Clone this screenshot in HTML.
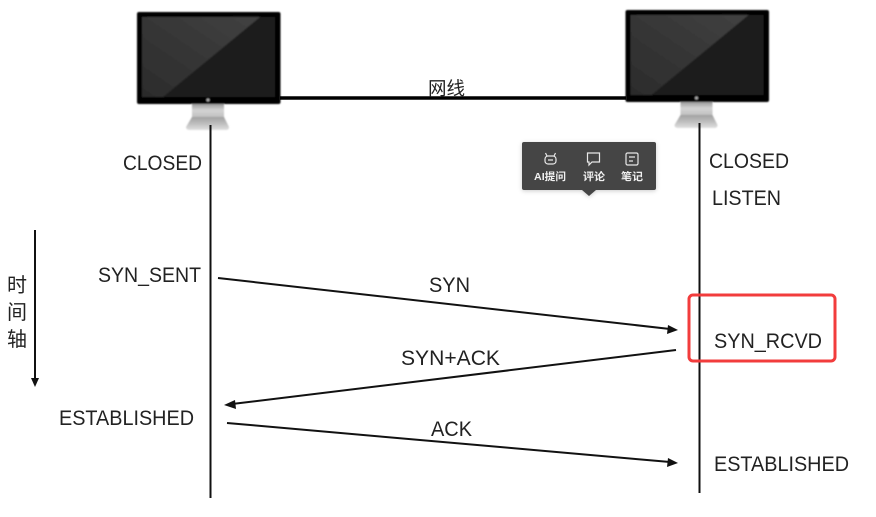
<!DOCTYPE html>
<html><head><meta charset="utf-8"><style>
html,body{margin:0;padding:0;background:#fff;width:876px;height:517px;overflow:hidden}
svg{display:block;filter:blur(.3px)}
text{font-family:"Liberation Sans","Noto Sans CJK SC",sans-serif;fill:#222;font-size:21px}
</style></head><body>
<svg width="876" height="517" viewBox="0 0 876 517" xmlns="http://www.w3.org/2000/svg">
<defs>
<linearGradient id="st" x1="0" y1="0" x2="0" y2="1"><stop offset="0" stop-color="#9a9a9a"/><stop offset=".45" stop-color="#d4d4d4"/><stop offset="1" stop-color="#bdbdbd"/></linearGradient>
<linearGradient id="ft" x1="0" y1="0" x2="0" y2="1"><stop offset="0" stop-color="#a0a0a0"/><stop offset=".5" stop-color="#bdbdbd"/><stop offset="1" stop-color="#e0e0e0"/></linearGradient>
<linearGradient id="gl" x1="0" y1="1" x2="1" y2="0"><stop offset="0" stop-color="#2b2b2b"/><stop offset="1" stop-color="#414141"/></linearGradient>
<filter id="b"><feGaussianBlur stdDeviation=".8"/></filter>
<filter id="sh" x="-10%" y="-10%" width="120%" height="125%"><feDropShadow dx="0" dy="1" stdDeviation="2" flood-color="#000" flood-opacity=".2"/></filter>
<g id="mon" filter="url(#b)">
<rect x="55" y="92" width="32" height="14" fill="url(#st)"/>
<path d="M55 105H87L92 115Q92 118 89 118H53Q49 118 49 115Z" fill="url(#ft)"/>
<rect x="0" y="0" width="143.500" height="92" rx="2" fill="#040404"/>
<rect x="5" y="5" width="133" height="80" fill="#1b1b1b"/>
<path d="M5 5H123L26 85H5Z" fill="url(#gl)"/>
<circle cx="71" cy="88" r="1.500" fill="#aaa"/>
</g>
</defs>
<rect width="876" height="517" fill="#fff"/>

<use href="#mon" x="137" y="12"/>
<use href="#mon" x="625.500" y="10"/>

<line x1="280" y1="98" x2="626" y2="98" stroke="#000" stroke-width="3.600"/>
<text x="428" y="95" style="font-size:18.500px">网线</text>

<line x1="210.500" y1="125" x2="210.500" y2="498" stroke="#111" stroke-width="2"/>
<line x1="699.500" y1="123" x2="699.500" y2="493" stroke="#111" stroke-width="2"/>

<text x="123" y="170" textLength="79" lengthAdjust="spacingAndGlyphs">CLOSED</text>
<text x="709" y="168" textLength="80" lengthAdjust="spacingAndGlyphs">CLOSED</text>
<text x="712" y="205" textLength="69" lengthAdjust="spacingAndGlyphs">LISTEN</text>
<text x="98" y="282" textLength="103" lengthAdjust="spacingAndGlyphs">SYN_SENT</text>
<text x="59" y="425" textLength="135" lengthAdjust="spacingAndGlyphs">ESTABLISHED</text>
<text x="714" y="471" textLength="135" lengthAdjust="spacingAndGlyphs">ESTABLISHED</text>
<text x="714" y="348" textLength="108" lengthAdjust="spacingAndGlyphs">SYN_RCVD</text>
<text x="429" y="292" textLength="41" lengthAdjust="spacingAndGlyphs">SYN</text>
<text x="401" y="365" textLength="99" lengthAdjust="spacingAndGlyphs">SYN+ACK</text>
<text x="431" y="436" textLength="41" lengthAdjust="spacingAndGlyphs">ACK</text>

<text x="7" y="292" style="font-size:20px">时</text>
<text x="7" y="319" style="font-size:20px">间</text>
<text x="7" y="346" style="font-size:20px">轴</text>

<line x1="35" y1="230" x2="35" y2="380" stroke="#111" stroke-width="2"/>
<path d="M31 378H39L35 387Z" fill="#111"/>

<line x1="218" y1="278" x2="670" y2="329" stroke="#111" stroke-width="2"/>
<path d="M678 330L667 334L668 325Z" fill="#111"/>
<line x1="676" y1="350" x2="232" y2="404" stroke="#111" stroke-width="2"/>
<path d="M224 405L235 400L236 409Z" fill="#111"/>
<line x1="227" y1="423" x2="670" y2="462" stroke="#111" stroke-width="2"/>
<path d="M678 463L667 467L668 458Z" fill="#111"/>

<rect x="689" y="295" width="146" height="66" rx="4" fill="none" stroke="#f23c3c" stroke-width="3"/>

<g filter="url(#sh)">
<rect x="522" y="142" width="134" height="48" rx="2" fill="#454545"/>
<path d="M582 190H596L589 196Z" fill="#454545"/>
</g>
<g fill="none" stroke="#e8e8e8" stroke-width="1.200">
<rect x="545" y="156" width="11" height="8" rx="3"/>
<path d="M547 156L545.500 153M554 156L555.500 153M548 160H553"/>
<path d="M587.500 153H599.500V162H592L589 165V162H587.500Z"/>
<rect x="626" y="153" width="12" height="12" rx="1.500"/>
<path d="M629 157H635M629 161H633"/>
</g>
<text x="534" y="180" style="font-size:10.500px;fill:#f0f0f0;font-weight:bold" textLength="32" lengthAdjust="spacingAndGlyphs">AI提问</text>
<text x="583" y="180" style="font-size:10.500px;fill:#f0f0f0;font-weight:bold" textLength="22" lengthAdjust="spacingAndGlyphs">评论</text>
<text x="621" y="180" style="font-size:10.500px;fill:#f0f0f0;font-weight:bold" textLength="22" lengthAdjust="spacingAndGlyphs">笔记</text>
</svg>
</body></html>
